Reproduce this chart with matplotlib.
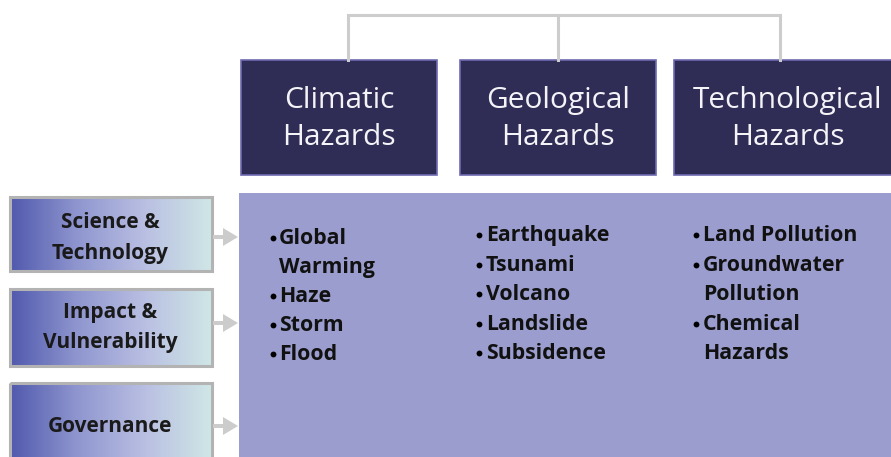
import matplotlib
matplotlib.use("Agg")
import matplotlib.pyplot as plt
import numpy as np
from matplotlib.patches import Rectangle, FancyArrow
from matplotlib.colors import LinearSegmentedColormap

# ---- content ----
hazard_titles = ["Climatic\nHazards", "Geological\nHazards", "Technological\nHazards"]
climatic_items = ["Global\nWarming", "Haze", "Storm", "Flood"]
geological_items = ["Earthquake", "Tsunami", "Volcano", "Landslide", "Subsidence"]
technological_items = ["Land Pollution", "Groundwater\nPollution", "Chemical\nHazards"]
themes = ["Science &\nTechnology", "Impact &\nVulnerability", "Governance"]

W, H = 891, 457
fig = plt.figure(figsize=(W / 100, H / 100), dpi=100)
ax = fig.add_axes([0, 0, 1, 1])
ax.set_xlim(0, W)
ax.set_ylim(H, 0)
ax.axis("off")

FONT = "Open Sans"
NAVY = "#2f2c55"
PANEL = "#9a9dcd"
LINE = "#cdcdcd"

# connector bracket
ax.plot([348, 348, 780, 780], [60, 15, 15, 60], color=LINE, lw=2.2, solid_joinstyle="miter")
ax.plot([558, 558], [15, 60], color=LINE, lw=2.2)

# header boxes
hdr_x = [(241, 437), (460, 656), (674, 905)]
hdr_cx = [339, 558, 788]
for (x0, x1), cx, t in zip(hdr_x, hdr_cx, hazard_titles):
    ax.add_patch(Rectangle((x0, 60), x1 - x0, 115, facecolor=NAVY,
                           edgecolor="#6e6ab0", lw=1.2))
    for k, sub in enumerate(t.split("\n")):
        ax.text(cx, 108 + 37 * k, sub, ha="center", va="baseline", color="#f4f4f8",
                fontsize=21.5, family=FONT)

# big panel
ax.add_patch(Rectangle((239, 193), W - 239 + 10, H - 193 + 10,
                       facecolor=PANEL, edgecolor="none"))

# bullet lists
def draw_list(items, bx, tx, y0, step):
    line = 0
    for it in items:
        ax.plot([bx], [y0 + line * step - 6], marker="o", ms=4.2, color="black",
                mec="none")
        for sub in it.split("\n"):
            ax.text(tx, y0 + line * step, sub, ha="left", va="baseline",
                    fontsize=15.3, family=FONT, fontweight="bold", color="#111111")
            line += 1

draw_list(climatic_items, 273, 279, 244, 29.0)
draw_list(geological_items, 479, 486, 241, 29.6)
draw_list(technological_items, 696, 703, 241, 29.6)

# left theme boxes with gradient
cmap = LinearSegmentedColormap.from_list(
    "g", ["#5059ad", "#8f96cf", "#b9bfe2", "#cfe7e6"])
grad = np.linspace(0, 1, 256).reshape(1, -1)
box_y = [(197, 271), (289, 366), (383, 462)]
arrow_y = [237, 323, 426]
text_base = [(228, 259), (318, 348), (432,)]
for (y0, y1), t, ay, tb in zip(box_y, themes, arrow_y, text_base):
    ax.imshow(grad, cmap=cmap, extent=(10, 212, y1, y0), aspect="auto", zorder=1)
    ax.add_patch(Rectangle((10, y0), 202, y1 - y0, facecolor="none",
                           edgecolor="#b3b3b3", lw=2.2, zorder=2))
    for sub, yb in zip(t.split("\n"), tb):
        ax.text(110, yb, sub, ha="center", va="baseline",
                fontsize=15, family=FONT, fontweight="bold", color="#1a1a1a", zorder=3)
    ax.add_patch(FancyArrow(213, ay, 25, 0, width=4, head_width=18,
                            head_length=15, length_includes_head=True,
                            color="#cccccc", lw=0, zorder=2))

ax.set_xlim(0, W)
ax.set_ylim(H, 0)
fig.savefig("out.png", dpi=100)
